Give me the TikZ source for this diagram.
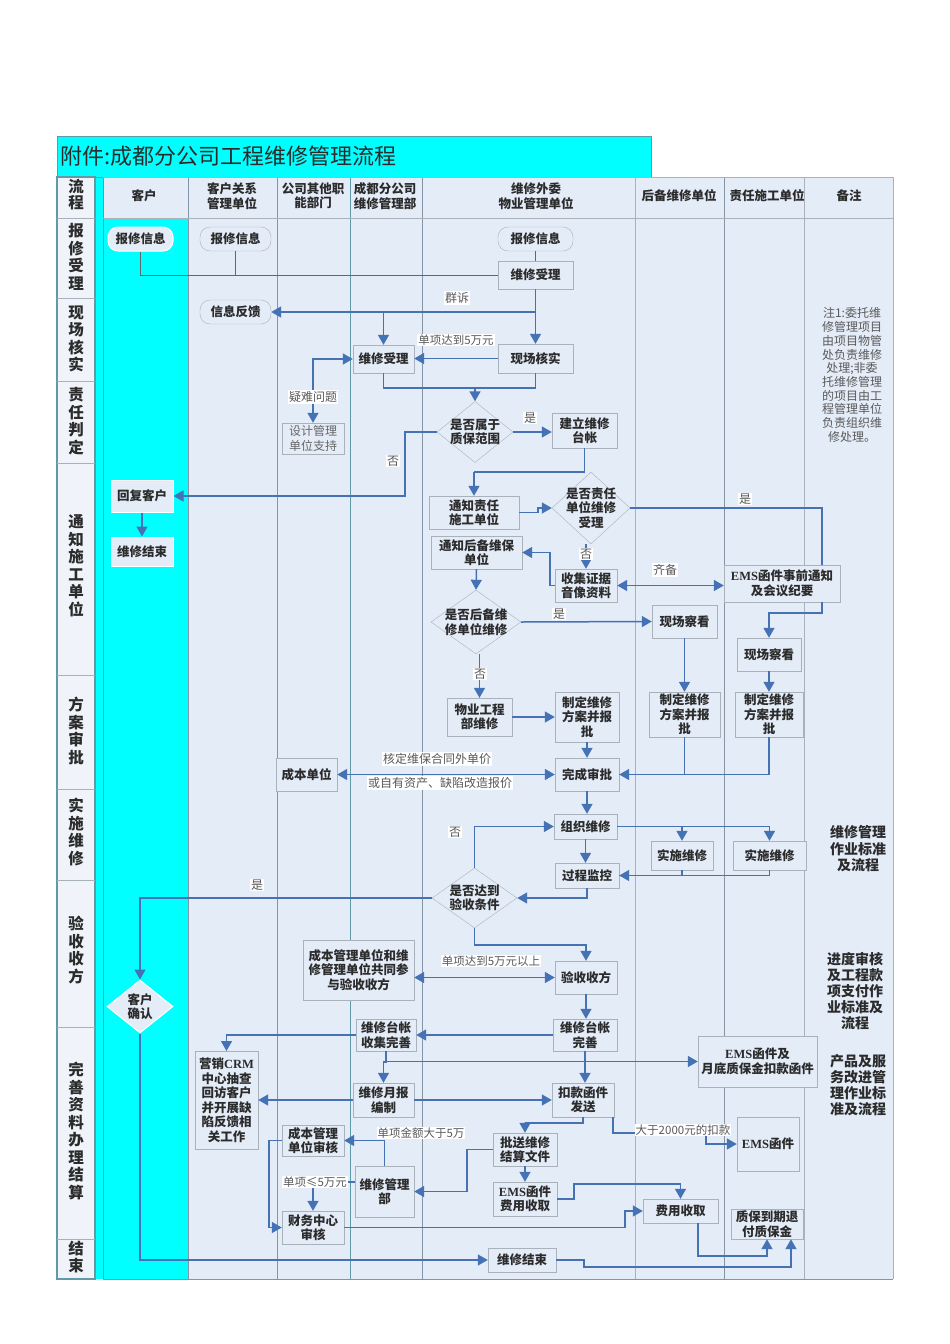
\documentclass[tikz,border=0pt]{standalone}
\usepackage{fontspec}
\usetikzlibrary{arrows.meta,shapes.geometric}
\setmainfont{Noto Sans CJK SC}
\newfontfamily\latin{Liberation Serif}
\definecolor{panelbg}{HTML}{E4ECF8}
\definecolor{lanebg}{HTML}{F0F4FA}
\definecolor{brightcyan}{HTML}{00FFFF}
\definecolor{flowblue}{HTML}{4472B4}
\definecolor{edgegray}{HTML}{A9B1BA}
\definecolor{colgray}{HTML}{8595A6}
\definecolor{colteal}{HTML}{5F9AA6}
\definecolor{inktext}{HTML}{2B2B2B}
\tikzset{
  boxtext/.style={font=\fontsize{12.5}{14.5}\selectfont\bfseries,text=inktext,align=center},
  box/.style={draw=edgegray,fill=panelbg,inner sep=0pt,boxtext},
  cyanbox/.style={box,fill=panelbg,draw=white,line width=1pt},
  round/.style={box,rounded corners=10pt,minimum width=71,minimum height=24},
  choice/.style={diamond,draw=edgegray,fill=panelbg,inner sep=0pt},
  head/.style={boxtext,inner sep=0pt},
  lane/.style={font=\fontsize{15.5}{17.5}\selectfont\bfseries,text=inktext,align=center,inner sep=0pt},
  note/.style={font=\fontsize{14}{16.5}\selectfont\bfseries,text=inktext,align=center,inner sep=0pt},
  tag/.style={font=\fontsize{12}{14}\selectfont,text=black!65,fill=white,inner sep=1pt,align=center},
  flow/.style={draw=flowblue,line width=1.5pt},
  arr/.style={flow,-{Triangle[length=10pt,width=11pt]}},
  arrboth/.style={flow,{Triangle[length=10pt,width=11pt]}-{Triangle[length=10pt,width=11pt]}},
  thinline/.style={draw=black!60,line width=.8pt}
}
\begin{document}
\begin{tikzpicture}[x=1pt,y=-1pt]
\useasboundingbox (0,0) rectangle (950,1344);
% panel
\fill[brightcyan] (57,136) rectangle (651,177);
\fill[panelbg] (103,177) rectangle (893,1279);
\fill[lanebg] (57,177) rectangle (95,1279);
\fill[brightcyan] (95,177) rectangle (103,1279);
\fill[brightcyan] (103,218) rectangle (188,1279);
\draw[colteal,line width=1pt] (57,136) rectangle (651,177);
\draw[colteal,line width=1.2pt] (57,177) rectangle (95,1279);
\foreach \x/\c in {103/colteal,188/colgray,277/colgray,350/colteal,422/colgray,635/edgegray,724.5/colgray,804/edgegray,893/edgegray}
  \draw[\c,line width=1pt] (\x,177) -- (\x,1279);
\draw[edgegray,line width=1pt] (103,177) -- (893,177);
\draw[edgegray,line width=1pt] (103,218) -- (893,218);
\draw[colgray,line width=1pt] (103,1279) -- (893,1279);
\foreach \y in {218,298,381,463,675,789,880,1027,1239}
  \draw[edgegray,line width=1pt] (57,\y) -- (95,\y);
\node[anchor=west,inner sep=0pt,font=\fontsize{22}{24}\selectfont,text=inktext] (title) at (60,156) {附件:成都分公司工程维修管理流程};
% lane names
\node[lane,font=\fontsize{15.5}{16}\selectfont\bfseries] (r0) at (76,195) {流\\程};
\node[lane] (r1) at (76,257) {报\\修\\受\\理};
\node[lane] (r2) at (76,339) {现\\场\\核\\实};
\node[lane] (r3) at (76,421) {责\\任\\判\\定};
\node[lane] (r4) at (76,566) {通\\知\\施\\工\\单\\位};
\node[lane] (r5) at (76,731) {方\\案\\审\\批};
\node[lane] (r6) at (76,832) {实\\施\\维\\修};
\node[lane] (r7) at (76,950) {验\\收\\收\\方};
\node[lane] (r8) at (76,1131) {完\\善\\资\\料\\办\\理\\结\\算};
\node[lane] (r9) at (76,1257) {结\\束};
% column heads
\node[head] (h1) at (144,196) {客户};
\node[head] (h2) at (232,196) {客户关系\\管理单位};
\node[head] (h3) at (313,196) {公司其他职\\能部门};
\node[head] (h4) at (385,196) {成都分公司\\维修管理部};
\node[head] (h5) at (536,196) {维修外委\\物业管理单位};
\node[head] (h6) at (679,196) {后备维修单位};
\node[head] (h7) at (767,196) {责任施工单位};
\node[head] (h8) at (849,196) {备注};
% reporting
\node[round,minimum width=65,draw=white,line width=1pt] (kh-bx) at (140.5,239) {报修信息};
\node[round] (gl-bx) at (235.5,239) {报修信息};
\node[round,minimum width=75] (wy-bx) at (535.5,239) {报修信息};
\node[box,minimum width=75,minimum height=28] (wy-sl) at (535.5,275) {维修受理};
\node[round] (fk) at (235.5,312) {信息反馈};
\node[box,minimum width=61,minimum height=28] (jb-sl) at (383.5,359) {维修受理};
\node[box,minimum width=75,minimum height=29] (wy-hs) at (535.5,358.5) {现场核实};
\node[box,minimum width=62,minimum height=31,font=\fontsize{12}{14.5}\selectfont,text=black!60] (sj) at (313,438.5) {设计管理\\单位支持};
% judging
\node[choice,minimum width=76,minimum height=61,label={[boxtext]center:是否属于\\质保范围}] (pd1) at (475,432) {};
\node[box,minimum width=65,minimum height=35] (tz) at (584.5,430.5) {建立维修\\台帐};
\node[cyanbox,minimum width=62,minimum height=32] (hf) at (142,496) {回复客户};
\node[cyanbox,minimum width=62,minimum height=29] (kh-js) at (142,551.5) {维修结束};
\node[box,minimum width=90,minimum height=33] (tzzr) at (474,512.5) {通知责任\\施工单位};
\node[choice,minimum width=78,minimum height=72,label={[boxtext]center:是否责任\\单位维修\\受理}] (pd2) at (591,508) {};
\node[box,minimum width=91,minimum height=33] (tzhb) at (476.5,552.5) {通知后备维保\\单位};
\node[box,minimum width=62,minimum height=33] (sj-zj) at (586,585.5) {收集证据\\音像资料};
\node[box,minimum width=116,minimum height=37] (ems-tz) at (782,583.5) {{\latin EMS}函件事前通知\\及会议纪要};
\node[choice,minimum width=90,minimum height=64,label={[boxtext]center:是否后备维\\修单位维修}] (pd3) at (476,622) {};
\node[box,minimum width=65,minimum height=33] (hb-kc) at (684.5,621.5) {现场察看};
\node[box,minimum width=64,minimum height=33] (zr-kc) at (769,654.5) {现场察看};
\node[box,minimum width=65,minimum height=38] (wy-wx) at (479.5,717) {物业工程\\部维修};
\node[box,minimum width=64,minimum height=50] (zd1) at (587,717) {制定维修\\方案并报\\批};
\node[box,minimum width=71,minimum height=45] (zd2) at (684.5,714.5) {制定维修\\方案并报\\批};
\node[box,minimum width=68,minimum height=45] (zd3) at (769,714.5) {制定维修\\方案并报\\批};
\node[box,minimum width=61,minimum height=33] (cb) at (306.5,774.5) {成本单位};
\node[box,minimum width=64,minimum height=33] (wc) at (587,774.5) {完成审批};
% repair
\node[box,minimum width=63,minimum height=25] (zz) at (585.5,826.5) {组织维修};
\node[box,minimum width=62,minimum height=29] (ss1) at (682,855.5) {实施维修};
\node[box,minimum width=73,minimum height=29] (ss2) at (769.5,855.5) {实施维修};
\node[box,minimum width=64,minimum height=25] (jk) at (587,875.5) {过程监控};
\node[choice,minimum width=85,minimum height=60,label={[boxtext]center:是否达到\\验收条件}] (pd4) at (474.5,898) {};
% acceptance
\node[choice,draw=white,line width=1pt,minimum width=66,minimum height=53,label={[boxtext]center:客户\\确认}] (qr) at (140,1006.5) {};
\node[box,minimum width=111,minimum height=60] (gt) at (358.5,970) {成本管理单位和维\\修管理单位共同参\\与验收收方};
\node[box,minimum width=62,minimum height=33] (ys) at (586,977.5) {验收收方};
\node[box,minimum width=60,minimum height=32] (sj-tz) at (386,1035) {维修台帐\\收集完善};
\node[box,minimum width=64,minimum height=32] (wt) at (585,1035) {维修台帐\\完善};
% settlement
\node[box,minimum width=119,minimum height=51] (ems-yd) at (757.5,1061.5) {{\latin EMS}函件及\\月底质保金扣款函件};
\node[box,minimum width=63,minimum height=98,anchor=north] (crm) at (226.5,1051) {营销{\latin CRM}\\中心抽查\\回访客户\\并开展缺\\陷反馈相\\关工作};
\node[box,minimum width=61,minimum height=34] (yb) at (383.5,1100) {维修月报\\编制};
\node[box,minimum width=62,minimum height=34] (kk) at (583,1100) {扣款函件\\发送};
\node[box,minimum width=62,minimum height=31] (cbsh) at (313,1140.5) {成本管理\\单位审核};
\node[box,minimum width=64,minimum height=33] (ps) at (525,1149.5) {批送维修\\结算文件};
\node[box,minimum width=62,minimum height=54] (ems-h) at (768,1144) {{\latin EMS}函件};
\node[box,minimum width=59,minimum height=51] (glb) at (384.5,1191.5) {维修管理\\部};
\node[box,minimum width=64,minimum height=34] (ems-fy) at (525,1199) {{\latin EMS}函件\\费用收取};
\node[box,minimum width=75,minimum height=24] (fy) at (680.5,1211) {费用收取};
\node[box,minimum width=72,minimum height=30] (zb) at (767,1224) {质保到期退\\付质保金};
\node[box,minimum width=62,minimum height=33] (cw) at (313,1227.5) {财务中心\\审核};
\node[box,minimum width=68,minimum height=24] (js) at (522,1260) {维修结束};
% connectors
\draw[thinline] (kh-bx.south) |- (wy-sl.west);
\draw[thinline] (gl-bx.south) |- (wy-sl.west);
\draw[thinline] (wy-bx.south) -- (wy-sl.north);
\draw[arr] (wy-sl.south) -- (wy-hs.north);
\draw[arr] (wy-sl.south |- fk.east) -- (fk.east);
\draw[arr] (jb-sl.north |- fk.east) -- (jb-sl.north);
\draw[arr] (wy-hs.west) -- (jb-sl.east |- wy-hs.west);
\draw[arrboth] (jb-sl.west) -| (sj.north);
\coordinate (j-pd1) at (475,388);
\draw[flow] (jb-sl.south) |- (j-pd1);
\draw[flow] (wy-hs.south) |- (j-pd1);
\draw[arr] (j-pd1) -- (pd1.north);
\draw[arr] (pd1.east) -- (pd1.east -| tz.west);
\coordinate (j-tz) at (474,472);
\draw[flow] (tz.south) |- (j-tz);
\draw[arr] (j-tz) -- (tzzr.north);
\coordinate (j-hf) at (405,496);
\draw[arr] (pd1.west) -| (j-hf) -- (hf.east);
\draw[arr] (hf.south) -- (kh-js.north);
\draw[arr] (tzzr.east) -- ++(19,0) |- (pd2.west);
\draw[flow] (pd2.east) -| ([xshift=40pt]ems-tz.north);
\draw[arr] (sj-zj.north |- pd2.south) -- (sj-zj.north);
\draw[arrboth] (sj-zj.east) -- (sj-zj.east -| ems-tz.west);
\draw[arr] (sj-zj.west) -- ++(-5,0) |- (tzhb.east);
\draw[arr] (tzhb.south) -- (pd3.north);
\draw[arr] (pd3.east) -- (hb-kc.west);
\draw[arr] (wy-wx.north |- pd3.south) -- (wy-wx.north);
\draw[arr] (wy-wx.east) -- (zd1.west);
\draw[arr] (zd1.south) -- (wc.north);
\draw[arr] (hb-kc.south) -- (zd2.north);
\draw[arr] ([xshift=40pt]ems-tz.south) -- ++(0,11) -| (zr-kc.north);
\draw[arr] (zr-kc.south) -- (zd3.north);
\draw[flow] (zd2.south) |- (wc.east);
\draw[arr] (zd3.south) |- (wc.east);
\draw[arrboth] (cb.east) -- (wc.west);
\draw[arr] (wc.south) -- (wc.south |- zz.north);
\draw[arr] (zz.east) -| (ss1.north);
\draw[arr] (zz.east) -| (ss2.north);
\draw[arr] (zz.south) -- (zz.south |- jk.north);
\draw[flow] (ss1.south) |- (jk.east);
\draw[arr] (ss2.south) |- (jk.east);
\draw[arr] (jk.south) |- (pd4.east);
\draw[arr] (pd4.north) |- (zz.west);
\draw[arr] (pd4.west) -| (qr.north);
\draw[arr] (pd4.south) -- ++(0,17) -| (ys.north);
\draw[arrboth] (gt.east |- ys.west) -- (ys.west);
\draw[arr] (ys.south) -- (ys.south |- wt.north);
\draw[arr] (wt.west) -- (sj-tz.east);
\draw[arr] (sj-tz.west) -| (crm.north);
\draw[arr] (sj-tz.south) -- ++(0,11) -| (yb.north);
\draw[arr] (sj-tz.south |- ems-yd.west) -- (ems-yd.west);
\draw[arr] (wt.south) -- (wt.south |- kk.north);
\draw[arr] (yb.east) -- (kk.west);
\draw[arr] (yb.west) -- (yb.west -| crm.east);
\draw[arr] (kk.south) -- ++(0,6) -| (ps.north);
\draw[arr] (ps.south) -- (ems-fy.north);
\draw[arr] (ps.west) -- ++(-26,0) |- (glb.east);
\draw[arr] (glb.north) |- (cbsh.east);
\draw[arr] ([yshift=9.5pt]glb.west) -| (cw.north);
\draw[arr] (cbsh.west) -- ++(-13,0) |- (cw.west);
\draw[arr] (cw.east) -- ++(281,0) |- (fy.west);
\coordinate (j-fy) at (574,1184);
\draw[arr] (ems-fy.east) -| (j-fy) -| (fy.north);
\draw[arr] ([xshift=17.5pt]fy.south) |- ([yshift=-17pt]zb.south) -- (zb.south);
\draw[arr] (js.east) -- ++(28,0) -- ++(0,7) -| ([xshift=24pt]zb.south);
\draw[arr] (qr.south) |- (js.west);
\coordinate (j-ems) at (706,1133);
\draw[flow] ([xshift=30pt]kk.south) |- (j-ems);
\draw[arr] (j-ems) |- (ems-h.west);
% labels on the lines
\node[tag] (l1) at (457,298) {群诉};
\node[tag,font=\fontsize{11.5}{14}\selectfont] (l2) at (456,340) {单项达到5万元};
\node[tag] (l3) at (313,397) {疑难问题};
\node[tag] (l4) at (530,418) {是};
\node[tag] (l5) at (393,461) {否};
\node[tag] (l6) at (745,499) {是};
\node[tag] (l7) at (586,554) {否};
\node[tag] (l8) at (665,570) {齐备};
\node[tag] (l9) at (559,614) {是};
\node[tag] (l10) at (480,674) {否};
\node[tag] (l11) at (437,759) {核定维保合同外单价};
\node[tag] (l12) at (440,783) {或自有资产、缺陷改造报价};
\node[tag] (l13) at (455,832) {否};
\node[tag] (l14) at (257,885) {是};
\node[tag,font=\fontsize{11.5}{14}\selectfont] (l15) at (491,961) {单项达到5万元以上};
\node[tag,font=\fontsize{11.5}{14}\selectfont] (l16) at (421,1133) {单项金额大于5万};
\node[tag,font=\fontsize{11.5}{14}\selectfont] (l17) at (315,1182) {单项≤5万元};
\node[tag,font=\fontsize{11.5}{14}\selectfont] (l18) at (683,1130) {大于2000元的扣款};
% remarks
\node[note,font=\fontsize{12}{13.7}\selectfont,text=black!65] (n1) at (852,375) {注1:委托维\\修管理项目\\由项目物管\\处负责维修\\处理;非委\\托维修管理\\的项目由工\\程管理单位\\负责组织维\\修处理。};
\node[note] (n2) at (858,849) {维修管理\\作业标准\\及流程};
\node[note,font=\fontsize{14}{16}\selectfont\bfseries] (n3) at (855,991) {进度审核\\及工程款\\项支付作\\业标准及\\流程};
\node[note,font=\fontsize{14}{16}\selectfont\bfseries] (n4) at (858,1085) {产品及服\\务改进管\\理作业标\\准及流程};
\end{tikzpicture}
\end{document}
